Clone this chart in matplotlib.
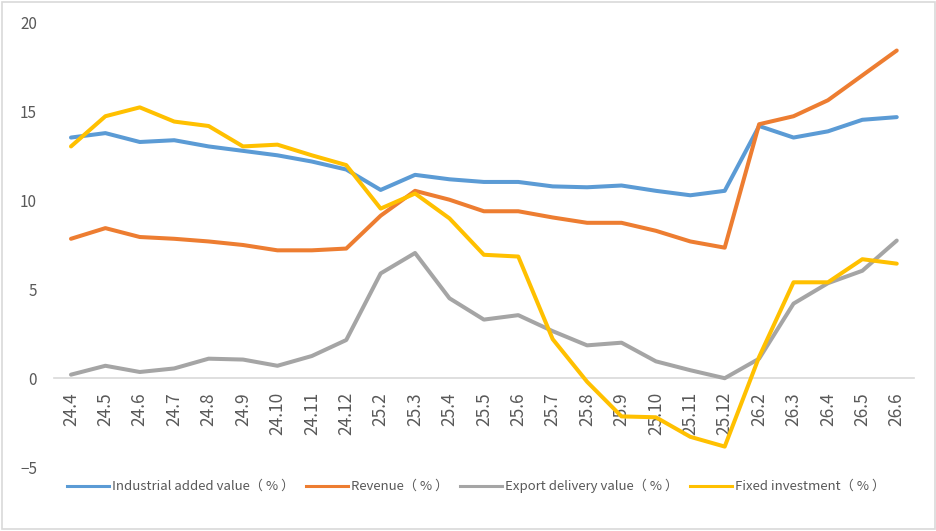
import matplotlib
matplotlib.use('Agg')
import matplotlib.pyplot as plt
from matplotlib.lines import Line2D
from matplotlib.patches import Rectangle

plt.rcParams['font.family'] = ['Noto Sans CJK SC', 'DejaVu Sans']

months = ['24.4', '24.5', '24.6', '24.7', '24.8', '24.9', '24.10', '24.11', '24.12',
          '25.2', '25.3', '25.4', '25.5', '25.6', '25.7', '25.8', '25.9', '25.10',
          '25.11', '25.12', '26.2', '26.3', '26.4', '26.5', '26.6']

industrial = [13.55, 13.8, 13.3, 13.4, 13.05, 12.8, 12.55, 12.2, 11.75,
              10.6, 11.45, 11.2, 11.05, 11.05, 10.8, 10.75, 10.85, 10.55,
              10.3, 10.55, 14.2, 13.55, 13.9, 14.55, 14.7]
revenue = [7.85, 8.45, 7.95, 7.85, 7.7, 7.5, 7.2, 7.2, 7.3,
           9.15, 10.55, 10.05, 9.4, 9.4, 9.05, 8.75, 8.75, 8.3,
           7.7, 7.35, 14.3, 14.75, 15.65, 17.05, 18.45]
export = [0.2, 0.7, 0.35, 0.55, 1.1, 1.05, 0.7, 1.25, 2.15,
          5.9, 7.05, 4.5, 3.3, 3.55, 2.65, 1.85, 2.0, 0.95,
          0.45, 0.0, 1.1, 4.2, 5.35, 6.05, 7.75]
fixed = [13.05, 14.75, 15.25, 14.45, 14.2, 13.05, 13.15, 12.55, 12.0,
         9.55, 10.4, 9.0, 6.95, 6.85, 2.2, -0.2, -2.15, -2.2,
         -3.3, -3.85, 1.2, 5.4, 5.4, 6.7, 6.45]

series = [
    ('Industrial added value（ % ）', industrial, '#5B9BD5'),
    ('Revenue（ % ）', revenue, '#ED7D31'),
    ('Export delivery value（ % ）', export, '#A5A5A5'),
    ('Fixed investment（ % ）', fixed, '#FFC000'),
]

text_color = '#595959'

fig = plt.figure(figsize=(9.37, 5.31), dpi=100)
ax = fig.add_axes([0.0574, 0.1205, 0.918, 0.8362])

x = list(range(len(months)))
for name, vals, color in series:
    ax.plot(x, vals, color=color, linewidth=2.9, solid_joinstyle='round',
            solid_capstyle='round', label=name)

# axis line sits at zero, labels hang below it
for side in ['top', 'right', 'left']:
    ax.spines[side].set_visible(False)
ax.spines['bottom'].set_position(('data', 0))
ax.spines['bottom'].set_color('#D9D9D9')
ax.spines['bottom'].set_linewidth(1.2)
ax.spines['bottom'].set_zorder(0)

ax.set_xlim(-0.5, len(months) - 0.5)
ax.set_ylim(-5, 20)
ax.set_yticks([-5, 0, 5, 10, 15, 20])
ax.set_xticks(x)
ax.set_xticklabels(months)

ax.tick_params(axis='x', length=0, pad=10, labelsize=12.5, labelcolor=text_color,
               labelrotation=90)
ax.tick_params(axis='y', length=0, pad=12, labelsize=11, labelcolor=text_color)
for lbl in ax.get_xticklabels():
    lbl.set_va('top')
    lbl.set_ha('center')

handles = [Line2D([0], [0], color=c, linewidth=2.2) for _, _, c in series]
labels = [n for n, _, _ in series]
fig.legend(handles, labels, loc='center', bbox_to_anchor=(0.508, 1 - 486 / 531),
           ncol=4, frameon=False, fontsize=9.5, labelcolor=text_color,
           handlelength=3.2, handletextpad=0.2, columnspacing=0.9)

# light chart-area border
fig.patches.append(Rectangle((2 / 937, 2 / 531), 933 / 937, 527 / 531,
                             transform=fig.transFigure, fill=False,
                             edgecolor='#D9D9D9', linewidth=1.2))

fig.savefig('out.png', dpi=100)
